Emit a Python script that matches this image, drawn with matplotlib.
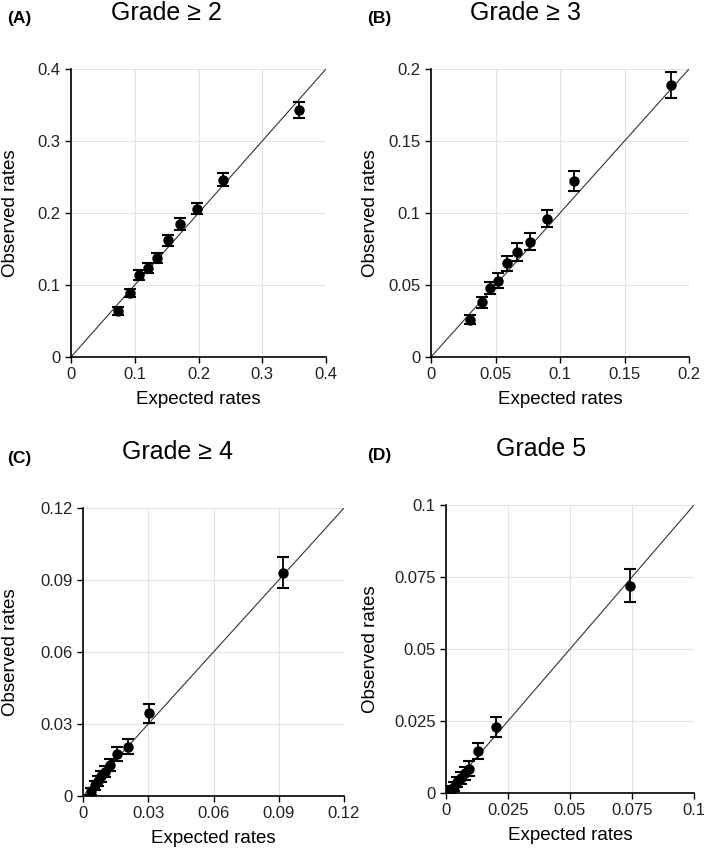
import matplotlib
matplotlib.use("Agg")
import matplotlib.pyplot as plt

plt.rcParams["font.family"] = ["Liberation Sans", "DejaVu Sans"]

W, H = 709, 860

# panel A: grade >= 2
a_exp = [0.073, 0.093, 0.107, 0.120, 0.135, 0.152, 0.171, 0.197, 0.238, 0.358]
a_obs = [0.064, 0.089, 0.114, 0.123, 0.138, 0.162, 0.185, 0.206, 0.246, 0.343]
a_err = [0.006, 0.006, 0.007, 0.007, 0.007, 0.008, 0.008, 0.008, 0.009, 0.011]

# panel B: grade >= 3
b_exp = [0.030, 0.0395, 0.046, 0.052, 0.059, 0.067, 0.077, 0.090, 0.111, 0.186]
b_obs = [0.026, 0.038, 0.048, 0.053, 0.065, 0.073, 0.080, 0.096, 0.122, 0.189]
b_err = [0.003, 0.004, 0.004, 0.005, 0.005, 0.006, 0.006, 0.006, 0.007, 0.009]

# panel C: grade >= 4
c_exp = [0.0038, 0.0053, 0.0068, 0.0083, 0.0100, 0.0124, 0.0158, 0.0208, 0.0303, 0.092]
c_obs = [0.0020, 0.0045, 0.0062, 0.0082, 0.0102, 0.0130, 0.0175, 0.0205, 0.0345, 0.093]
c_err = [0.0015, 0.0018, 0.0020, 0.0022, 0.0024, 0.0026, 0.0029, 0.0032, 0.0040, 0.0065]

# panel D: grade 5
d_exp = [0.0012, 0.0020, 0.0032, 0.0045, 0.0060, 0.0075, 0.0094, 0.0129, 0.0200, 0.074]
d_obs = [0.0006, 0.0012, 0.0022, 0.0038, 0.0052, 0.0068, 0.0085, 0.0146, 0.0229, 0.072]
d_err = [0.0012, 0.0014, 0.0016, 0.0018, 0.0020, 0.0022, 0.0025, 0.0028, 0.0034, 0.0058]

a_ticks = [0, 0.1, 0.2, 0.3, 0.4]
b_ticks = [0, 0.05, 0.1, 0.15, 0.2]
c_ticks = [0, 0.03, 0.06, 0.09, 0.12]
d_ticks = [0, 0.025, 0.05, 0.075, 0.1]

a_labels = ["0", "0.1", "0.2", "0.3", "0.4"]
b_labels = ["0", "0.05", "0.1", "0.15", "0.2"]
c_labels = ["0", "0.03", "0.06", "0.09", "0.12"]
d_labels = ["0", "0.025", "0.05", "0.075", "0.1"]

panels = [
    ("(A)", "Grade \u2265 2", a_exp, a_obs, a_err, a_ticks, a_labels, (71, 69, 326, 357)),
    ("(B)", "Grade \u2265 3", b_exp, b_obs, b_err, b_ticks, b_labels, (431, 69, 689, 357)),
    ("(C)", "Grade \u2265 4", c_exp, c_obs, c_err, c_ticks, c_labels, (83, 508, 344, 796)),
    ("(D)", "Grade 5", d_exp, d_obs, d_err, d_ticks, d_labels, (446, 505, 694, 793)),
]

fig = plt.figure(figsize=(W / 100, H / 100), dpi=100)

for i, (tag, title, ex, ob, er, ticks, labels, box) in enumerate(panels):
    x0, y0, x1, y1 = box
    ax = fig.add_axes([x0 / W, 1 - y1 / H, (x1 - x0) / W, (y1 - y0) / H])
    lim = ticks[-1]
    ax.plot([0, lim], [0, lim], color="#333333", lw=0.8, zorder=2)
    ax.errorbar(ex, ob, yerr=er, fmt="o", color="black", ms=6.5,
                elinewidth=1.3, capsize=4, capthick=1.5, zorder=3)
    ax.set_xlim(0, lim)
    ax.set_ylim(0, lim)
    ax.set_xticks(ticks)
    ax.set_yticks(ticks)
    ax.set_xticklabels(labels)
    ax.set_yticklabels(labels)
    ax.grid(True, color="#e3e3e3", lw=0.8, zorder=0)
    ax.set_axisbelow(True)
    for s in ("top", "right"):
        ax.spines[s].set_visible(False)
    for s in ("left", "bottom"):
        ax.spines[s].set_color("black")
        ax.spines[s].set_linewidth(1.2)
    ax.tick_params(labelsize=12, colors="black", labelcolor="#222222",
                   length=4.5, width=1.0, pad=3)
    ax.set_xlabel("Expected rates", fontsize=13.5, labelpad=6)
    ax.set_ylabel("Observed rates", fontsize=13.5)

    col = i % 2
    # y label anchored (right edge) near the left side of each column
    lx = 19 if col == 0 else 379
    ax.yaxis.set_label_coords((lx - x0) / (x1 - x0), 0.5)

    tx = 7 if col == 0 else 367
    fig.text(tx / W, 1 - (y0 - 50) / H, tag, fontsize=12.5, fontweight="bold",
             ha="left", va="center")
    fig.text((x0 + 95) / W, 1 - (y0 - 56) / H, title, fontsize=18,
             ha="center", va="center")

fig.savefig("out.png", dpi=100)
